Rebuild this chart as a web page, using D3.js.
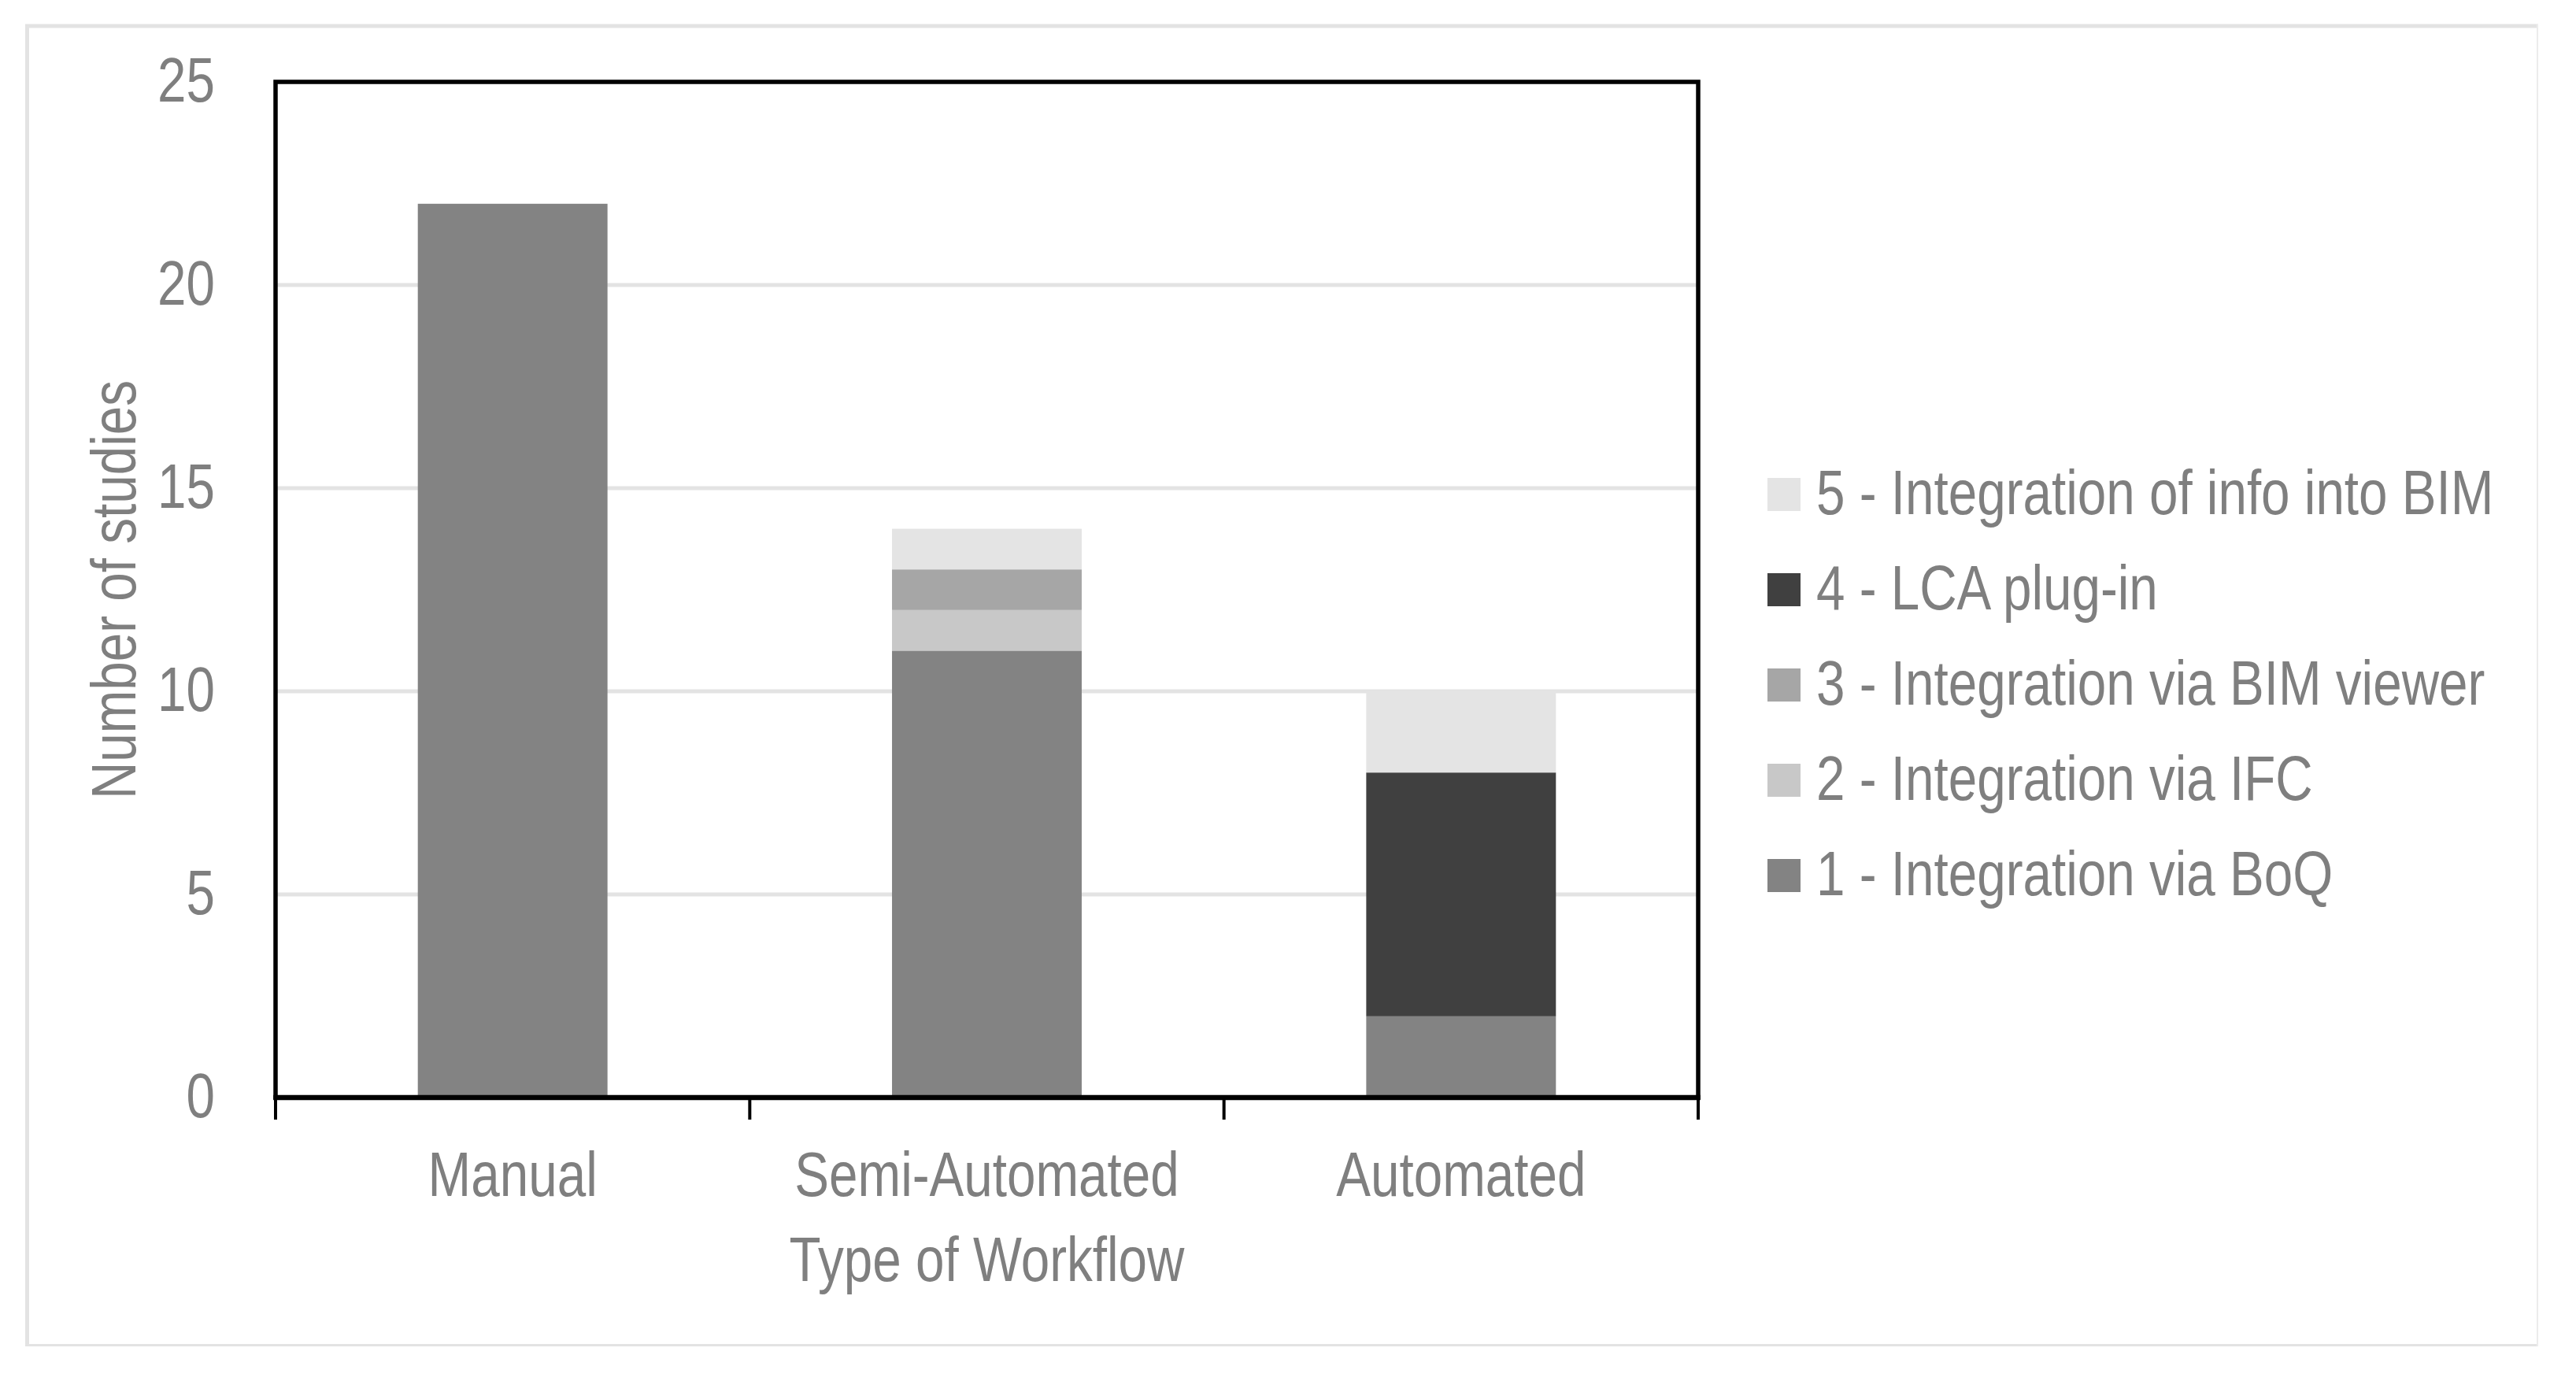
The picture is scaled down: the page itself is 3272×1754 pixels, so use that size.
<!DOCTYPE html>
<html>
<head>
<meta charset="utf-8">
<script src="https://cdn.jsdelivr.net/npm/d3@7/dist/d3.min.js"></script>
<style>
  body { margin: 0; background: #fff; }
  svg { display: block; }
</style>
</head>
<body>
<svg id="chart" width="3272" height="1754"></svg>
<script>
// data
const categories = ["Manual", "Semi-Automated", "Automated"];
const seriesNames = [
  "1 - Integration via BoQ",
  "2 - Integration via IFC",
  "3 - Integration via BIM viewer",
  "4 - LCA plug-in",
  "5 - Integration of info into BIM"
];
const viaBoQ = [22, 11, 2];
const viaIFC = [0, 1, 0];
const viaViewer = [0, 1, 0];
const lcaPlugin = [0, 0, 6];
const infoIntoBIM = [0, 1, 2];
const seriesColors = ["#838383", "#c8c8c8", "#a6a6a6", "#404040", "#e4e4e4"];
const yTicks = [0, 5, 10, 15, 20, 25];
const yTitle = "Number of studies";
const xTitle = "Type of Workflow";

const allSeries = [viaBoQ, viaIFC, viaViewer, lcaPlugin, infoIntoBIM];
const rows = categories.map((c, i) => {
  let r = { cat: c };
  seriesNames.forEach((s, j) => r[s] = allSeries[j][i]);
  return r;
});

// the chart uses a narrow font (Arial Narrow look); squeeze if no narrow face is there
function hasFont(name) {
  const ctx = document.createElement("canvas").getContext("2d");
  const s = "Number of studies 0123456789";
  ctx.font = "80px monospace";
  const a = ctx.measureText(s).width;
  ctx.font = `80px '${name}', monospace`;
  return ctx.measureText(s).width !== a;
}
let fontFamily = "'Liberation Sans', Arial, sans-serif";
let squeeze = 0.82;
if (hasFont("Liberation Sans Narrow")) {
  fontFamily = "'Liberation Sans Narrow', sans-serif";
  squeeze = 1;
}
const textColor = "#7f7f7f";
const fontSize = 80;

const svg = d3.select("#chart");

const margin = { left: 350, right: 1115, top: 104, bottom: 360 };
const W = 3272, H = 1754;
const x0 = margin.left, x1 = W - margin.right;
const y1 = margin.top, y0 = H - margin.bottom;

// outer chart border (Excel style)
svg.append("line").attr("x1", 34.5).attr("x2", 34.5).attr("y1", 31).attr("y2", 1710)
  .attr("stroke", "#e3e3e3").attr("stroke-width", 5);
svg.append("line").attr("x1", 32).attr("x2", 3224).attr("y1", 33).attr("y2", 33)
  .attr("stroke", "#e3e3e3").attr("stroke-width", 5);
svg.append("line").attr("x1", 32).attr("x2", 3224).attr("y1", 1708.5).attr("y2", 1708.5)
  .attr("stroke", "#e3e3e3").attr("stroke-width", 3);
svg.append("line").attr("x1", 3223).attr("x2", 3223).attr("y1", 31).attr("y2", 1710)
  .attr("stroke", "#ececec").attr("stroke-width", 2);

const y = d3.scaleLinear().domain([0, 25]).range([y0, y1]);
const slot = d3.scaleBand().domain(categories).range([x0, x1]).padding(0);
const x = d3.scaleBand().domain(categories).range([x0, x1]).paddingInner(0.6).paddingOuter(0.3);

// gridlines
svg.append("g").selectAll("line")
  .data(yTicks.filter(t => t > 0 && t < 25))
  .join("line")
    .attr("x1", x0).attr("x2", x1)
    .attr("y1", d => y(d)).attr("y2", d => y(d))
    .attr("stroke", "#e3e3e3").attr("stroke-width", 5);

// stacked bars
const stack = d3.stack().keys(seriesNames)(rows);
const color = d3.scaleOrdinal().domain(seriesNames).range(seriesColors);

svg.append("g").selectAll("g")
  .data(stack)
  .join("g")
    .attr("fill", d => color(d.key))
  .selectAll("rect")
  .data(d => d.filter(p => p[1] > p[0]))
  .join("rect")
    .attr("x", d => x(d.data.cat))
    .attr("width", x.bandwidth())
    .attr("y", d => y(d[1]))
    .attr("height", d => y(d[0]) - y(d[1]));

// plot frame
svg.append("rect")
  .attr("x", x0).attr("y", y1)
  .attr("width", x1 - x0).attr("height", y0 - y1)
  .attr("fill", "none").attr("stroke", "#000").attr("stroke-width", 5.5);
svg.append("line").attr("x1", x0 - 2.75).attr("x2", x1 + 2.75).attr("y1", y0).attr("y2", y0)
  .attr("stroke", "#000").attr("stroke-width", 6.5);

// x ticks at category boundaries
const bounds = categories.map(c => slot(c)).concat([slot(categories[categories.length - 1]) + slot.bandwidth()]);
svg.append("g").selectAll("line")
  .data(bounds)
  .join("line")
    .attr("x1", d => d).attr("x2", d => d)
    .attr("y1", y0).attr("y2", y0 + 28)
    .attr("stroke", "#000").attr("stroke-width", 4);

function styleText(sel) {
  return sel.attr("font-family", fontFamily)
    .attr("font-size", fontSize)
    .attr("fill", textColor);
}

// y axis labels
const yAxis = d3.axisLeft(y).tickValues(yTicks).tickSize(0).tickPadding(0);
const gy = svg.append("g").attr("transform", `translate(${x0},0)`).call(yAxis);
gy.select(".domain").remove();
gy.selectAll("text")
  .attr("x", null).attr("dy", null)
  .attr("transform", `translate(-77,24) scale(${squeeze},1)`)
  .attr("text-anchor", "end");
styleText(gy.selectAll("text"));
gy.attr("font-family", null).attr("font-size", null);

// category labels
styleText(svg.append("g").selectAll("text")
  .data(categories)
  .join("text")
    .attr("text-anchor", "middle")
    .attr("transform", d => `translate(${slot(d) + slot.bandwidth() / 2},${y0 + 125}) scale(${squeeze},1)`)
    .text(d => d));

// axis titles
styleText(svg.append("text")
  .attr("text-anchor", "middle")
  .attr("transform", `translate(${(x0 + x1) / 2},${y0 + 233}) scale(${squeeze},1)`)
  .text(xTitle));

styleText(svg.append("text")
  .attr("text-anchor", "middle")
  .attr("transform", `translate(172,${(y0 + y1) / 2}) rotate(-90) scale(${squeeze},1)`)
  .text(yTitle));

// legend, top item is series 5
const legendItems = seriesNames.slice().reverse();
const legend = svg.append("g").selectAll("g")
  .data(legendItems)
  .join("g")
    .attr("transform", (d, i) => `translate(2245,${628 + i * 121})`);
legend.append("rect")
  .attr("x", 0).attr("y", -21)
  .attr("width", 42).attr("height", 42)
  .attr("fill", d => color(d));
styleText(legend.append("text")
  .attr("transform", `translate(62,25) scale(${squeeze},1)`)
  .text(d => d));
</script>
</body>
</html>
